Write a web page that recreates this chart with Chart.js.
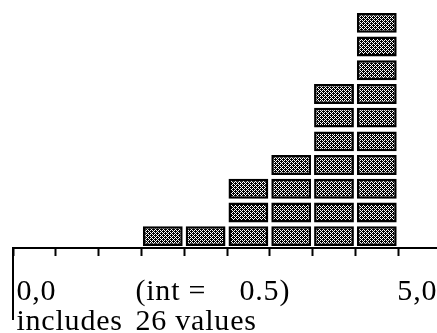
<!DOCTYPE html>
<html><head><meta charset="utf-8">
<script src="https://cdn.jsdelivr.net/npm/chart.js@4/dist/chart.umd.min.js"></script>
<style>html,body{margin:0;padding:0;background:#fff;overflow:hidden}#wrap{width:442px;height:333px}</style>
</head><body><div id="wrap"><canvas id="c" width="442" height="333"></canvas></div>
<script>
// Data (bins of width 0.5 from 0,0 to 5,0; 26 values)
const binStarts = [0, 0.5, 1.0, 1.5, 2.0, 2.5, 3.0, 3.5, 4.0, 4.5];
const binCounts = [0, 0, 0, 1, 1, 3, 4, 7, 10, 0];
const binWidth = 0.5;
const tickValues = [0, 0.5, 1.0, 1.5, 2.0, 2.5, 3.0, 3.5, 4.0, 4.5, 5.0];
const labelValues = [0.04, 1.43, 4.49];
const labelLine1 = ['0,0', '(int =    0.5)', '5,0'];
const labelLine2 = ['includes', '26 values', ''];
const boxGap = 0.08;

// halftone-like pattern for boxes
const pc = document.createElement('canvas');
pc.width = 4; pc.height = 4;
const pctx = pc.getContext('2d');
pctx.fillStyle = '#000'; pctx.fillRect(0, 0, 4, 4);
pctx.fillStyle = '#ffffff';
[[0,0],[2,0],[3,1],[0,2],[2,2],[1,3]].forEach(p => pctx.fillRect(p[0], p[1], 1, 1));
const ctx = document.getElementById('c').getContext('2d');
const pattern = ctx.createPattern(pc, 'repeat');

const maxCount = Math.max(...binCounts);
const datasets = [];
for (let k = 0; k < maxCount; k++) {
  const data = [];
  binStarts.forEach((s, i) => {
    if (binCounts[i] > k) data.push({ x: s + binWidth / 2, y: [k + boxGap, k + 1 - boxGap] });
  });
  datasets.push({
    data, grouped: false, backgroundColor: pattern, borderColor: '#000', borderWidth: 2.5,
    borderSkipped: false, barPercentage: 0.93, categoryPercentage: 1.0
  });
}

const baseLine = {
  id: 'baseLine',
  beforeDraw(chart) { chart.ctx.letterSpacing = '0.8px'; },
  afterDraw(chart) {
    const x = chart.scales.x;
    const px = x.getPixelForValue(0);
    const c = chart.ctx;
    c.save();
    c.strokeStyle = '#000'; c.lineWidth = 2;
    c.beginPath(); c.moveTo(px, x.top - 1); c.lineTo(px, x.top + 72); c.stroke();
    c.restore();
  }
};

const noPad = s => { s.paddingLeft = 0; s.paddingRight = 0; };

new Chart(ctx, {
  type: 'bar',
  data: { datasets },
  options: {
    responsive: false, animation: false,
    layout: { padding: { left: 13, top: 11, right: 1, bottom: 0 } },
    plugins: { legend: { display: false }, tooltip: { enabled: false } },
    scales: {
      x: {
        type: 'linear', min: 0, max: 5.0, offset: false,
        afterBuildTicks: s => { s.ticks = tickValues.map(v => ({ value: v })); },
        afterFit: s => { s.height = 8; noPad(s); },
        grid: { display: true, offset: false, drawOnChartArea: false, drawTicks: true, tickLength: 8, tickWidth: 2, tickColor: '#000' },
        border: { display: true, color: '#000', width: 2 },
        ticks: { display: false }
      },
      x2: {
        type: 'linear', position: 'bottom', min: 0, max: 5.0, offset: false,
        afterBuildTicks: s => { s.ticks = labelValues.map(v => ({ value: v })); },
        afterFit: s => { s.height = 77; noPad(s); },
        grid: { display: false, drawTicks: false },
        border: { display: false },
        ticks: {
          display: true, align: 'start', autoSkip: false, maxRotation: 0, padding: 22,
          color: '#000', font: { family: 'Liberation Serif', size: 30, lineHeight: 0.97 },
          callback: (v, i) => labelLine2[i] ? [labelLine1[i], labelLine2[i]] : labelLine1[i]
        }
      },
      y: { display: false, min: 0, max: 10 }
    }
  },
  plugins: [baseLine]
});
</script>
</body></html>
